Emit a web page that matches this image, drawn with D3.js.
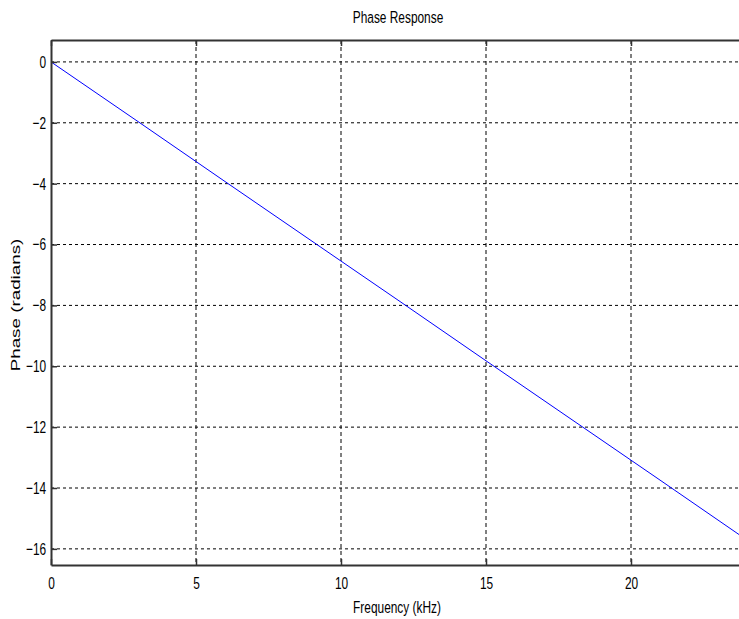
<!DOCTYPE html>
<html>
<head>
<meta charset="utf-8">
<script src="https://cdn.jsdelivr.net/npm/d3@7"></script>
<style>
  html, body { margin: 0; padding: 0; background: #fff; overflow: hidden; }
  text { font-family: "Liberation Sans", Arial, sans-serif; fill: #000; }
</style>
</head>
<body>
<svg id="chart" width="739" height="619"></svg>
<script>
// Data
const freqKHz = [0, 3, 6, 9, 12, 15, 18, 21, 24];
const phaseRad = [0, -1.96, -3.93, -5.89, -7.85, -9.82, -11.78, -13.74, -15.71];
const xTicks = [0, 5, 10, 15, 20];
const yTicks = [0, -2, -4, -6, -8, -10, -12, -14, -16];
const titleText = "Phase Response";
const xLabel = "Frequency (kHz)";
const yLabel = "Phase (radians)";

const svg = d3.select("#chart");
const pL = 51, pR = 747, pT = 40, pB = 565;
const FONT = '"Liberation Sans", Arial, sans-serif';
const SQ = 0.7;   // horizontal squeeze of the text
const FS = 17;

const x = d3.scaleLinear().domain([0, 24]).range([pL, pR]);
const y = d3.scaleLinear().domain([0.72, -16.53]).range([pT, pB]);

svg.append("defs").append("clipPath").attr("id", "plotclip")
  .append("rect").attr("x", pL).attr("y", pT).attr("width", pR - pL).attr("height", pB - pT);

// grid
const grid = svg.append("g");
grid.selectAll("line.vg").data(xTicks.filter(d => d !== 0)).enter().append("line")
  .attr("x1", d => x(d)).attr("x2", d => x(d)).attr("y1", pT).attr("y2", pB)
  .attr("stroke", "#000").attr("stroke-width", 1).attr("stroke-dasharray", "4,3");
grid.selectAll("line.hg").data(yTicks).enter().append("line")
  .attr("x1", pL).attr("x2", pR).attr("y1", d => y(d)).attr("y2", d => y(d))
  .attr("stroke", "#000").attr("stroke-width", 1).attr("stroke-dasharray", "3,3");

// data line
svg.append("path")
  .datum(freqKHz.map((f, i) => [f, phaseRad[i]]))
  .attr("clip-path", "url(#plotclip)")
  .attr("fill", "none").attr("stroke", "#0000ff").attr("stroke-width", 1)
  .attr("d", d3.line().x(d => x(d[0])).y(d => y(d[1])));

// axes (ticks pointing inward)
const axisColor = "#333";
const xAxisB = d3.axisBottom(x).tickValues(xTicks).tickSizeInner(-6).tickSizeOuter(0).tickPadding(12).tickFormat(d3.format("d"));
const xAxisT = d3.axisTop(x).tickValues(xTicks).tickSizeInner(-6).tickSizeOuter(0).tickFormat("");
const yAxisL = d3.axisLeft(y).tickValues(yTicks).tickSizeInner(-6).tickSizeOuter(0).tickPadding(7).tickFormat(d3.format("d"));

function style(g) {
  g.select(".domain").attr("stroke", axisColor).attr("stroke-width", 2);
  g.selectAll(".tick line").attr("stroke", axisColor).attr("stroke-width", 1.5);
  g.selectAll(".tick text").attr("font-size", FS).attr("fill", "#000").attr("font-family", FONT)
    .attr("transform", `scale(${SQ},1)`);
}
svg.append("g").attr("transform", `translate(0,${pB})`).call(xAxisB).call(style);
svg.append("g").attr("transform", `translate(0,${pT})`).call(xAxisT).call(style);
svg.append("g").attr("transform", `translate(${pL},0)`).call(yAxisL).call(style);

// title and labels
svg.append("text").attr("transform", `translate(398,22.5) scale(${SQ},1)`).attr("text-anchor", "middle")
  .attr("font-size", FS).attr("font-family", FONT).text(titleText);
svg.append("text").attr("transform", `translate(397,612.5) scale(${SQ},1)`).attr("text-anchor", "middle")
  .attr("font-size", FS).attr("font-family", FONT).text(xLabel);
svg.append("text").attr("transform", `translate(20,305) scale(${SQ},1) rotate(-90)`).attr("text-anchor", "middle")
  .attr("font-size", 18.8).attr("font-family", FONT).text(yLabel);
</script>
</body>
</html>
